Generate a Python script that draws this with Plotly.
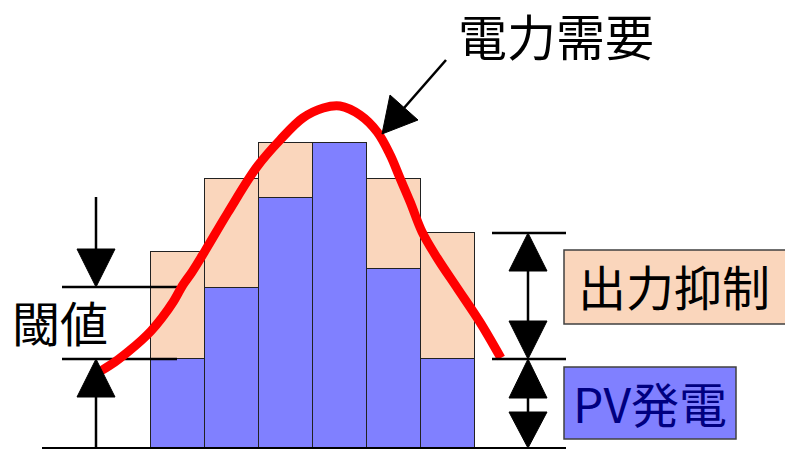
import plotly.graph_objects as go

# ---------------- data ----------------
slots = [1, 2, 3, 4, 5, 6]                       # time slots (bar positions)
pv_output = [89, 160, 250, 305, 179, 89]          # PV発電 (delivered)
curtailment = [107, 109, 55, 0, 90, 126]          # 出力抑制 (curtailed part)

demand_x = [-0.43, -0.17, 0.07, 0.33, 0.5, 0.70, 0.91, 1.09, 1.26, 1.5,
            1.93, 2.46, 2.89, 3.31, 3.69, 4.0, 4.37, 4.69, 4.93, 5.11,
            5.30, 5.52, 5.80, 6.17, 6.59, 6.98]
demand_y = [77, 86, 96, 108, 117, 130, 146, 163, 176, 197,
            236, 281, 308, 330, 340, 342, 333, 316, 293, 270,
            246, 216, 190, 160, 126, 90]

threshold_low = 89
threshold_high = 161

label_demand = "電力需要"
label_threshold = "閾値"
label_curtail = "出力抑制"
label_pv = "PV発電"

# ---------------- layout helpers ----------------
W, H = 785, 449
PXU = 54.0          # pixels per slot
ORIGIN_PX = 124.0   # pixel x of slot 0
BASE_PY = 448.0     # pixel y of zero


def px2x(px):
    return (px - ORIGIN_PX) / PXU


def py2y(py):
    return BASE_PY - py


def tri(cx_px, tip_y, direction, length=38, half=19):
    """triangle in data coords; direction +1 points up, -1 points down"""
    xl = px2x(cx_px - half)
    xr = px2x(cx_px + half)
    xc = px2x(cx_px)
    base = tip_y - direction * length
    return dict(type="path", xref="x", yref="y",
                path=f"M {xl},{base} L {xr},{base} L {xc},{tip_y} Z",
                fillcolor="black", line=dict(color="black", width=1))


def vline(cx_px, y0, y1, w=2.5):
    return dict(type="line", xref="x", yref="y", x0=px2x(cx_px), x1=px2x(cx_px),
                y0=y0, y1=y1, line=dict(color="black", width=w))


def hline(px0, px1, y, w=2.5):
    return dict(type="line", xref="x", yref="y", x0=px2x(px0), x1=px2x(px1),
                y0=y, y1=y, line=dict(color="black", width=w))


BLUE = "#8080FF"
PEACH = "#FAD6BC"
EDGE = "#222222"

fig = go.Figure()
fig.add_trace(go.Bar(x=slots, y=pv_output, width=1, marker=dict(color=BLUE, line=dict(color=EDGE, width=1.5))))
fig.add_trace(go.Bar(x=slots, y=curtailment, width=1, marker=dict(color=PEACH, line=dict(color=EDGE, width=1.5))))

# threshold lines (drawn under the demand curve)
for lvl in (threshold_low, threshold_high):
    fig.add_trace(go.Scatter(x=[px2x(62), px2x(177)], y=[lvl, lvl], mode="lines",
                             line=dict(color="black", width=2.5), hoverinfo="skip"))

fig.add_trace(go.Scatter(x=demand_x, y=demand_y, mode="lines",
                         line=dict(color="#FF0000", width=9, shape="spline", smoothing=1.0)))

shapes = []
# baseline
shapes.append(hline(42, 566, 0, w=2))
# left threshold arrows
shapes.append(vline(96, threshold_high + 38, py2y(197)))
shapes.append(tri(96, threshold_high, -1))
shapes.append(vline(96, 0, threshold_low - 38))
shapes.append(tri(96, threshold_low, +1))
# right arrows
top_total = pv_output[-1] + curtailment[-1]
mid = pv_output[-1]
shapes.append(hline(492, 566, top_total))
shapes.append(hline(492, 566, mid))
shapes.append(vline(528, mid + 30, top_total - 30))
shapes.append(tri(528, top_total, +1))
shapes.append(tri(528, mid, -1))
shapes.append(vline(528, 30, mid - 30))
shapes.append(tri(528, mid, +1, length=39))
shapes.append(tri(528, 0, -1, length=36))
# legend boxes
shapes.append(dict(type="rect", xref="x", yref="y", x0=px2x(564), x1=px2x(790),
                   y0=py2y(324), y1=py2y(250), fillcolor=PEACH, line=dict(color="#404040", width=1.5), layer="below"))
shapes.append(dict(type="rect", xref="x", yref="y", x0=px2x(564), x1=px2x(736),
                   y0=py2y(439), y1=py2y(367), fillcolor=BLUE, line=dict(color="#404040", width=1.5), layer="below"))
# demand arrow
shapes.append(dict(type="line", xref="x", yref="y", x0=px2x(446), y0=py2y(60), x1=px2x(404), y1=py2y(108),
                   line=dict(color="black", width=2.5)))
shapes.append(dict(type="path", xref="x", yref="y",
                   path=f"M {px2x(382)},{py2y(134)} L {px2x(390)},{py2y(95)} L {px2x(418)},{py2y(120)} Z",
                   fillcolor="black", line=dict(color="black", width=1)))

FONT = "Noto Sans CJK JP"
annotations = [
    dict(x=px2x(556), y=py2y(34), text=label_demand, font=dict(size=49, color="black", family=FONT)),
    dict(x=px2x(60), y=py2y(321), text=label_threshold, font=dict(size=48, color="black", family=FONT)),
    dict(x=px2x(674), y=py2y(285), text=label_curtail, font=dict(size=48, color="black", family=FONT)),
    dict(x=px2x(650), y=py2y(402), text=label_pv, font=dict(size=48, color="#000080", family=FONT)),
]
for a in annotations:
    a.update(xref="x", yref="y", showarrow=False, xanchor="center", yanchor="middle")

fig.update_layout(
    width=W, height=H, margin=dict(l=0, r=0, t=0, b=0),
    paper_bgcolor="white", plot_bgcolor="white",
    barmode="stack", bargap=0, showlegend=False,
    xaxis=dict(range=[px2x(0), px2x(W)], visible=False, fixedrange=True),
    yaxis=dict(range=[py2y(H), py2y(0)], visible=False, fixedrange=True),
    shapes=shapes, annotations=annotations,
)

fig.write_html("out.html", config={"displayModeBar": False})
